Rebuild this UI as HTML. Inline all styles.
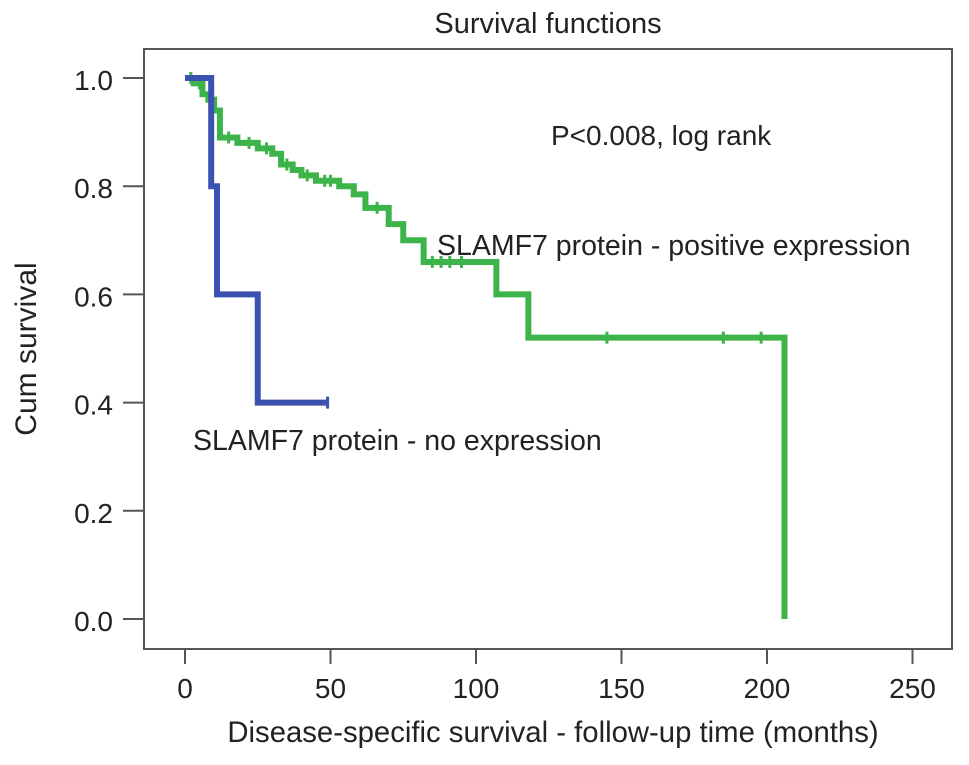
<!DOCTYPE html>
<html><head><meta charset="utf-8"><style>
body{margin:0;background:#fff;}
svg text{font-family:"Liberation Sans",Arial,sans-serif;fill:#222;}
</style></head><body>
<svg id="chart" width="969" height="760" viewBox="0 0 969 760">
<text x="548" y="33" font-size="29" text-anchor="middle">Survival functions</text>
<rect x="144" y="49" width="808" height="600" fill="none" stroke="#555" stroke-width="2"/>
<g id="axes"></g>
<g id="series"></g>
<text x="551" y="145" font-size="28">P&lt;0.008, log rank</text>
<text x="437" y="255" font-size="28.5">SLAMF7 protein - positive expression</text>
<text x="193" y="450" font-size="28.5">SLAMF7 protein - no expression</text>
<text x="553" y="742" font-size="29.3" text-anchor="middle">Disease-specific survival - follow-up time (months)</text>
<text transform="translate(36,349) rotate(-90)" font-size="30" text-anchor="middle">Cum survival</text>
</svg>
<script>
const xTicks=[0,50,100,150,200,250];
const yTicks=[0.0,0.2,0.4,0.6,0.8,1.0];
const greenTimes=[0,3,6,8,10,12,18,25,30,33,37,40,45,53,58,62,70,75,82,107,118,206];
const greenSurv=[1.0,0.99,0.97,0.96,0.94,0.89,0.88,0.87,0.86,0.84,0.83,0.82,0.81,0.80,0.785,0.76,0.73,0.70,0.66,0.60,0.52,0.0];
const greenEnd=206;
const greenCensor=[2,5,15,22,28,35,42,48,50,66,85,88,91,95,145,185,198];
const blueTimes=[0,9,11,25];
const blueSurv=[1.0,0.80,0.60,0.40];
const blueEnd=49;
const blueCensor=[49];
const sx=v=>185+v*2.91;
const sy=v=>619-v*541;
const NS='http://www.w3.org/2000/svg';
const axes=document.getElementById('axes'),series=document.getElementById('series');
function mk(tag,attrs,parent){const e=document.createElementNS(NS,tag);for(const k in attrs)e.setAttribute(k,attrs[k]);parent.appendChild(e);return e;}
xTicks.forEach(t=>{
 const l=mk('line',{x1:sx(t),x2:sx(t),y1:649,y2:664,stroke:'#555','stroke-width':2},axes);
 
 
 const tx=mk('text',{x:sx(t),y:698,'font-size':28,'text-anchor':'middle'},axes);tx.textContent=t;
 
 
});
yTicks.forEach(t=>{
 const l=mk('line',{x1:123,x2:144,y1:sy(t),y2:sy(t),stroke:'#555','stroke-width':2},axes);
 
 
 const tx=mk('text',{x:113,y:sy(t)+12,'font-size':28,'text-anchor':'end'},axes);tx.textContent=t.toFixed(1);
 
 
});
function survAt(times,surv,t){let s=surv[0];for(let i=0;i<times.length;i++)if(times[i]<=t)s=surv[i];return s;}
function drawSeries(times,surv,end,censor,color,name){
 let d='M'+sx(times[0])+','+sy(surv[0]);
 for(let i=1;i<times.length;i++){d+=' H'+sx(times[i])+' V'+sy(surv[i]);}
 if(end>times[times.length-1])d+=' H'+sx(end);
 const p=mk('path',{d:d,fill:'none',stroke:color,'stroke-width':6},series);
 
 
 censor.forEach(c=>{
  const y=sy(survAt(times,surv,c));
  const m=mk('line',{x1:sx(c),x2:sx(c),y1:y-6,y2:y+6,stroke:color,'stroke-width':3},series);
  
  
 });
}
drawSeries(greenTimes,greenSurv,greenEnd,greenCensor,'#3cb44a','positive-expression');
drawSeries(blueTimes,blueSurv,blueEnd,blueCensor,'#3c52b0','no-expression');
</script>
</body></html>
